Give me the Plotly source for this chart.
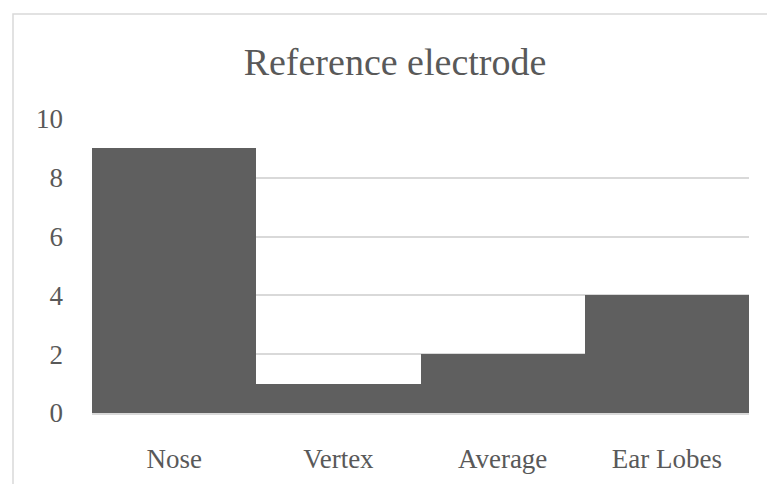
import plotly.graph_objects as go

# Counts of studies per reference electrode placement
categories = ["Nose", "Vertex", "Average", "Ear Lobes"]
counts = [9, 1, 2, 4]
y_ticks = [0, 2, 4, 6, 8, 10]

W, H = 767, 484
L, R, T, B = 92, 18, 119, 71  # plot-area margins in px
pw, ph = W - L - R, H - T - B

def px_x(p):
    return (p - L) / pw

def px_y(p):
    return (H - B - p) / ph

FONT = "Liberation Serif"
TEXT = "#595959"
GRID = "#d9d9d9"

fig = go.Figure(
    go.Bar(
        x=categories,
        y=counts,
        marker=dict(color="#5f5f5f", line=dict(width=0)),
        hoverinfo="x+y",
    )
)

fig.update_layout(
    width=W,
    height=H,
    margin=dict(l=L, r=R, t=T, b=B, autoexpand=False),
    paper_bgcolor="white",
    plot_bgcolor="white",
    bargap=0,
    showlegend=False,
    title=dict(
        text="Reference electrode",
        font=dict(family=FONT, size=38, color=TEXT),
        x=px_x(395),
        xref="paper",
        xanchor="center",
        y=1 - 62 / H,
        yanchor="middle",
    ),
    font=dict(family=FONT, color=TEXT),
    shapes=[
        dict(
            type="rect",
            xref="paper",
            yref="paper",
            x0=px_x(13),
            x1=px_x(W + 20),
            y0=px_y(H + 20),
            y1=px_y(14),
            line=dict(color=GRID, width=1.5),
            fillcolor="rgba(0,0,0,0)",
            layer="below",
        )
    ],
)

fig.update_yaxes(
    range=[0, 10],
    tickvals=y_ticks,
    showgrid=True,
    gridcolor=GRID,
    gridwidth=1.5,
    zeroline=False,
    showline=False,
    ticks="",
    automargin=False,
    ticklabelstandoff=28,
    tickfont=dict(family=FONT, size=27, color=TEXT),
)

fig.update_xaxes(
    showgrid=False,
    showline=True,
    linecolor=GRID,
    linewidth=1.5,
    ticks="",
    automargin=False,
    ticklabelstandoff=21,
    tickfont=dict(family=FONT, size=27, color=TEXT),
)

fig.write_html("out.html")
